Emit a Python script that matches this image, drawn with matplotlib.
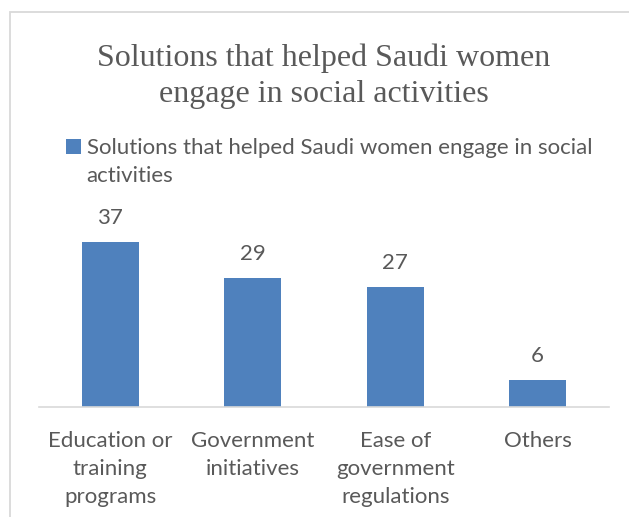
import matplotlib
matplotlib.use("Agg")
import matplotlib.pyplot as plt
from matplotlib.patches import Rectangle

categories = ["Education or\ntraining\nprograms", "Government\ninitiatives",
              "Ease of\ngovernment\nregulations", "Others"]
values = [37, 29, 27, 6]
series_name_line1 = "Solutions that helped Saudi women engage in social"
series_name_line2 = "activities"
title = "Solutions that helped Saudi women\nengage in social activities"

BAR = "#4F81BD"
TXT = "#595959"
GRID = "#D9D9D9"
FONT = "Lato"
FS = 16

W, H = 629, 517
fig = plt.figure(figsize=(W / 100, H / 100), dpi=100)
fig.patch.set_facecolor("white")

# chart border
fig.add_artist(Rectangle((10 / W, -0.1), 1.0, (H - 11.5) / H + 0.1,
                         transform=fig.transFigure, fill=False,
                         edgecolor=GRID, linewidth=1.3))

ax_h = 40 * 4.46
ax = fig.add_axes([39 / W, 1 - 407 / H, 570 / W, ax_h / H])
x = list(range(len(categories)))
bars = ax.bar(x, values, width=0.4, color=BAR, label=series_name_line1)
ax.set_xlim(-0.5, 3.5)
ax.set_ylim(0, 40)
for s in ["top", "right", "left"]:
    ax.spines[s].set_visible(False)
ax.spines["bottom"].set_color(GRID)
ax.spines["bottom"].set_linewidth(1.2)
ax.set_yticks([])
ax.set_xticks(x)
ax.set_xticklabels(categories, fontsize=FS, color=TXT, family=FONT,
                   linespacing=1.5)
ax.tick_params(axis="x", length=0, pad=17.5)
ax.bar_label(bars, labels=[str(v) for v in values], padding=10,
             fontsize=FS, color=TXT, family=FONT)

fig.text(0.5 + 9 / W, 1 - 76 / H, title, ha="center", va="center",
         fontsize=23, color=TXT, family="Liberation Serif", linespacing=1.33)

leg = ax.legend(loc="upper left", bbox_to_anchor=(66 / W, 1 - 138 / H),
                bbox_transform=fig.transFigure, frameon=False,
                prop={"family": FONT, "size": FS}, handlelength=0.68,
                handleheight=0.68, handletextpad=0.25, borderpad=0,
                borderaxespad=0)
for t in leg.get_texts():
    t.set_color(TXT)

fig.canvas.draw()
r = fig.canvas.get_renderer()
bb = leg.get_texts()[0].get_window_extent(r)
fig.text(bb.x0 / fig.bbox.width, (bb.y0 - 28) / fig.bbox.height,
         series_name_line2, ha="left", va="bottom", fontsize=FS,
         color=TXT, family=FONT)

fig.savefig("out.png", dpi=100)
